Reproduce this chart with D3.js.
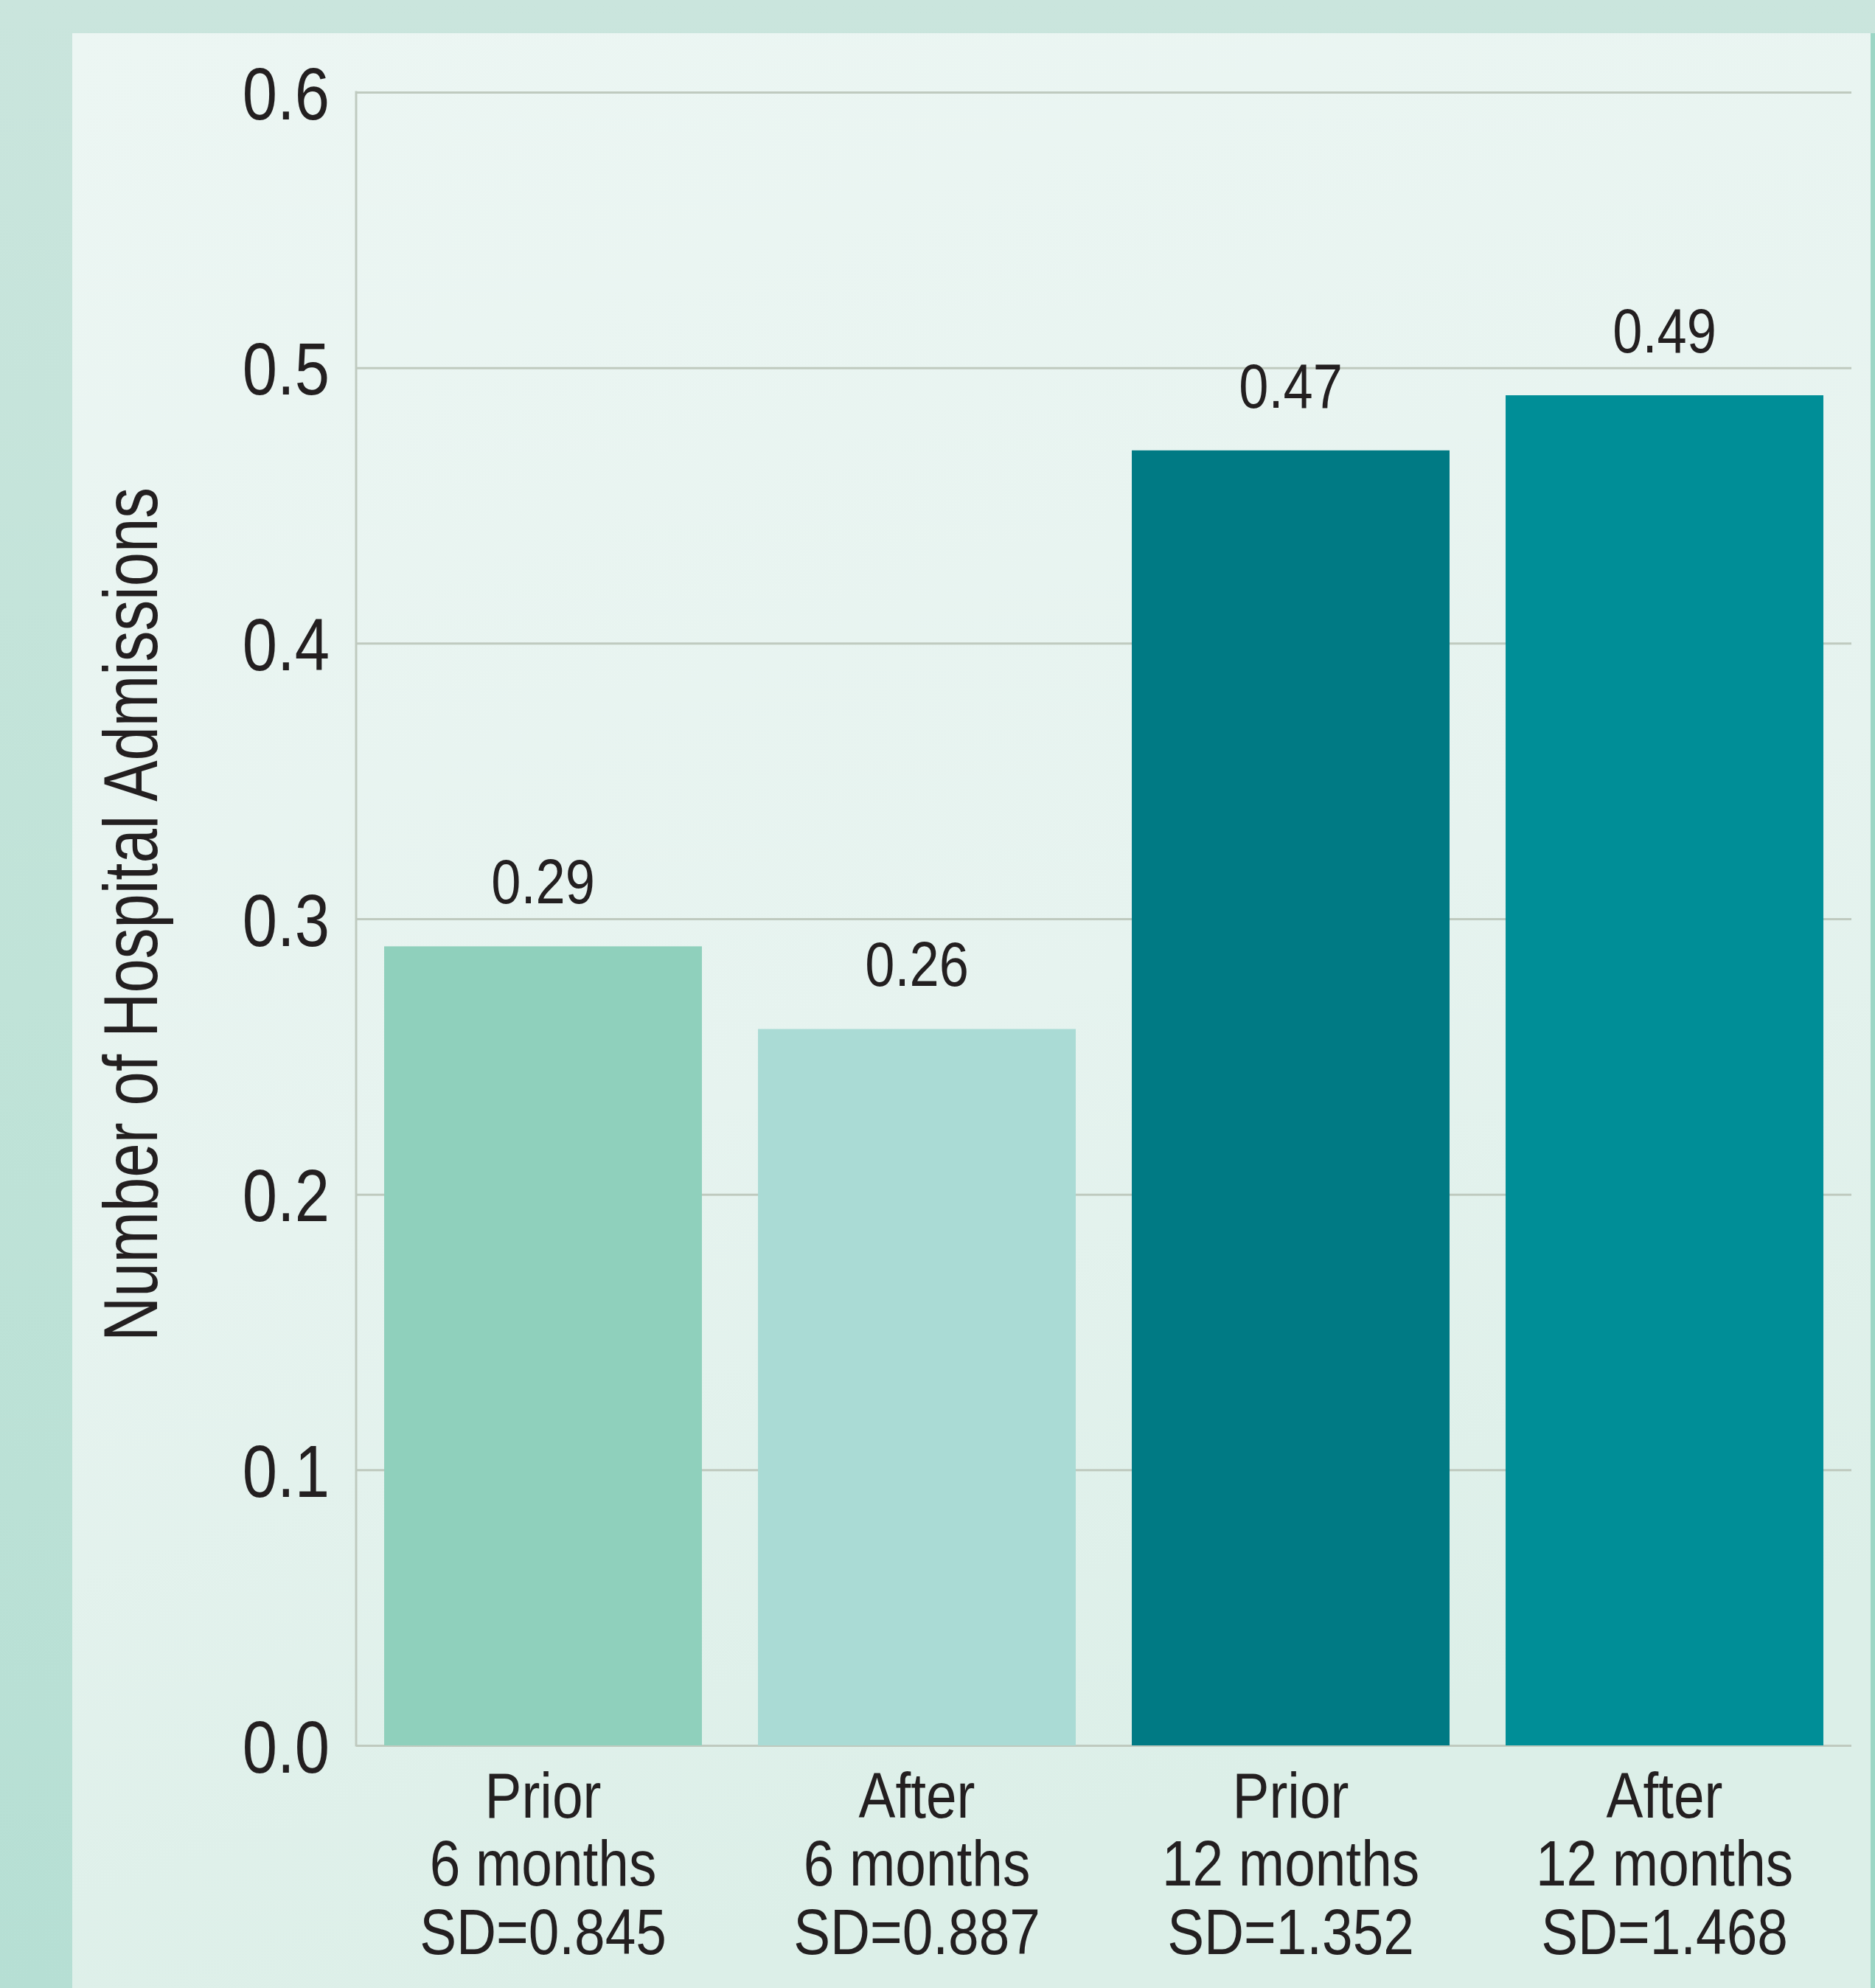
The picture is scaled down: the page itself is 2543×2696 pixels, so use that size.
<!DOCTYPE html>
<html>
<head>
<meta charset="utf-8">
<script src="https://cdn.jsdelivr.net/npm/d3@7"></script>
<style>
  html, body { margin: 0; padding: 0; background: #c8e5dc; }
  svg { display: block; }
  text { font-family: "Liberation Sans", Arial, "Helvetica", sans-serif; fill: #231f20; }
</style>
</head>
<body>
<div id="chart"></div>
<script>
// ---- data ----
const periods   = ["Prior", "After", "Prior", "After"];
const durations = ["6 months", "6 months", "12 months", "12 months"];
const sdLabels  = ["SD=0.845", "SD=0.887", "SD=1.352", "SD=1.468"];
const values    = [0.29, 0.26, 0.47, 0.49];
const valueLabels = ["0.29", "0.26", "0.47", "0.49"];
const barColors = ["#8fd0bc", "#aadbd5", "#007a84", "#008e97"];
const yTicks    = [0, 0.1, 0.2, 0.3, 0.4, 0.5, 0.6];
const yTickLabels = ["0.0", "0.1", "0.2", "0.3", "0.4", "0.5", "0.6"];
const yTitle    = "Number of Hospital Admissions";

// ---- layout ----
const W = 2543, H = 2696;
const plotL = 483, plotR = 2511, plotT = 125, plotB = 2367;
const SX = 0.85; // horizontal condensing of the sans font

const svg = d3.select("#chart").append("svg")
  .attr("width", W).attr("height", H);

const defs = svg.append("defs");
const outerG = defs.append("linearGradient").attr("id", "outerG")
  .attr("x1", 0).attr("y1", 0).attr("x2", 0).attr("y2", 1);
outerG.append("stop").attr("offset", 0).attr("stop-color", "#cae5dd");
outerG.append("stop").attr("offset", 0.5).attr("stop-color", "#c0e3d8");
outerG.append("stop").attr("offset", 1).attr("stop-color", "#b6dfd4");

const panelG = defs.append("linearGradient").attr("id", "panelG")
  .attr("x1", 0).attr("y1", 0).attr("x2", 0.3).attr("y2", 1);
panelG.append("stop").attr("offset", 0).attr("stop-color", "#ecf6f3");
panelG.append("stop").attr("offset", 0.6).attr("stop-color", "#e6f3ef");
panelG.append("stop").attr("offset", 1).attr("stop-color", "#dcefe8");

svg.append("rect").attr("width", W).attr("height", H).attr("fill", "url(#outerG)");
svg.append("rect").attr("x", 2537).attr("y", 45).attr("width", W - 2537).attr("height", H - 45).attr("fill", "#9cd6c5");
svg.append("rect").attr("x", 98).attr("y", 45).attr("width", 2537 - 98).attr("height", H - 45).attr("fill", "url(#panelG)");

const x = d3.scaleBand().domain(d3.range(values.length))
  .range([plotL, plotR]).paddingInner(0.15).paddingOuter(0.075);
const y = d3.scaleLinear().domain([0, 0.6]).range([plotB, plotT]);

// gridlines + tick labels via axis
const yAxis = d3.axisLeft(y).tickValues(yTicks)
  .tickSize(-(plotR - plotL)).tickPadding(36)
  .tickFormat((d, i) => yTickLabels[i]);
const gy = svg.append("g").attr("transform", `translate(${plotL},0)`).call(yAxis);
gy.select(".domain").remove();
gy.selectAll(".tick line").attr("stroke", "#bfcabf").attr("stroke-width", 3);
gy.selectAll(".tick text")
  .attr("font-size", 100).attr("fill", "#231f20")
  .attr("dy", "0.36em").attr("x", -36 / SX)
  .attr("transform", `scale(${SX},1)`);

// left axis line
svg.append("line").attr("x1", plotL).attr("x2", plotL)
  .attr("y1", y(0.6) - 1.5).attr("y2", y(0) + 1.5)
  .attr("stroke", "#bfcabf").attr("stroke-width", 3);

// bars
svg.append("g").selectAll("rect").data(values).join("rect")
  .attr("x", (d, i) => x(i))
  .attr("width", x.bandwidth())
  .attr("y", d => y(d))
  .attr("height", d => y(0) - y(d))
  .attr("fill", (d, i) => barColors[i]);

// value labels
svg.append("g").selectAll("text").data(values).join("text")
  .attr("transform", (d, i) => `translate(${x(i) + x.bandwidth() / 2},${y(d) - 58}) scale(${SX},1)`)
  .attr("text-anchor", "middle")
  .attr("font-size", 85)
  .text((d, i) => valueLabels[i]);

// category labels
const cat = svg.append("g").selectAll("g").data(values).join("g")
  .attr("transform", (d, i) => `translate(${x(i) + x.bandwidth() / 2},${plotB}) scale(${SX},1)`);
[periods, durations, sdLabels].forEach((arr, li) => {
  cat.append("text")
    .attr("text-anchor", "middle")
    .attr("font-size", 88)
    .attr("y", 98 + li * 92.5)
    .text((d, i) => arr[i]);
});

// y title
svg.append("text")
  .attr("transform", `translate(213, 1240) rotate(-90)`)
  .attr("text-anchor", "middle")
  .attr("font-size", 104)
  .attr("textLength", 1158)
  .attr("lengthAdjust", "spacingAndGlyphs")
  .text(yTitle);
</script>
</body>
</html>
